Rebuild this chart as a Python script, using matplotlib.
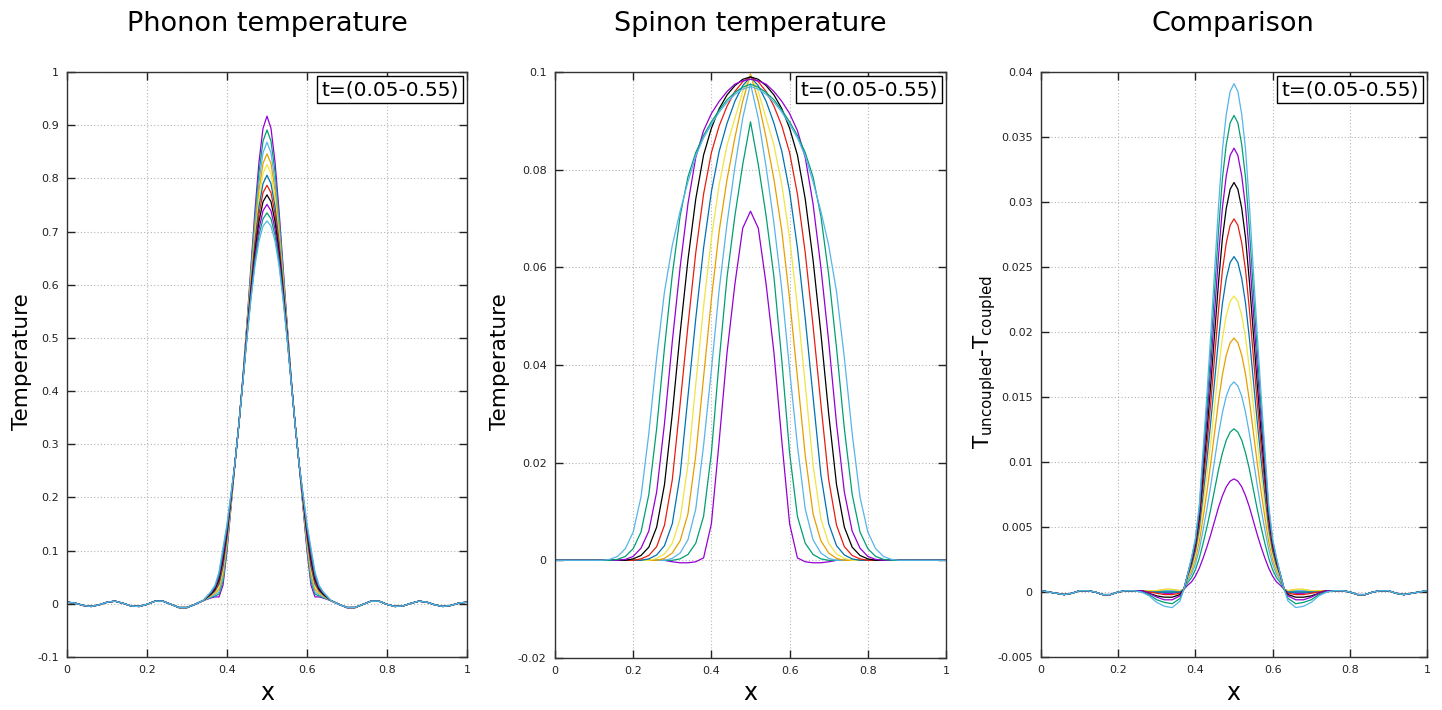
import numpy as np
import matplotlib.pyplot as plt
from matplotlib.ticker import FuncFormatter, MultipleLocator

plt.rcParams['font.family'] = ['DejaVu Sans']

# gnuplot default line colours, cycling after eight
colors = ['#9400d3', '#009e73', '#56b4e9', '#e69f00', '#f0e442', '#0072b2',
          '#e51e10', '#000000', '#9400d3', '#009e73', '#56b4e9']
legend_text = 't=(0.05-0.55)'

# ---------------- Phonon temperature ----------------
phonon_left_x = [0.00, 0.02, 0.04, 0.06, 0.08, 0.10, 0.12, 0.14, 0.16, 0.18,
                 0.20, 0.22, 0.24, 0.26, 0.28, 0.30, 0.32, 0.34]
phonon_left_tail = [0.003, 0.0015, -0.003, -0.005, -0.002, 0.003, 0.005, 0.001, -0.004, -0.005,
                    -0.001, 0.005, 0.005, -0.001, -0.007, -0.007, -0.001, 0.006]
phonon_core_x = [0.36, 0.37, 0.38, 0.39, 0.40, 0.41, 0.42, 0.43, 0.44, 0.45,
                 0.46, 0.47, 0.48, 0.49, 0.50, 0.51, 0.52, 0.53, 0.54, 0.55,
                 0.56, 0.57, 0.58, 0.59, 0.60, 0.61, 0.62, 0.63, 0.64]
phonon_right_x = [0.66, 0.68, 0.70, 0.72, 0.74, 0.76, 0.78, 0.80, 0.82, 0.84,
                  0.86, 0.88, 0.90, 0.92, 0.94, 0.96, 0.98, 1.00]
phonon_right_tail = [0.006, -0.001, -0.007, -0.007, -0.001, 0.005, 0.005, -0.001, -0.005, -0.004,
                     0.001, 0.005, 0.003, -0.002, -0.005, -0.003, 0.0015, 0.003]
phonon_core = [
    [0.011, 0.013, 0.013, 0.035, 0.100, 0.182, 0.265, 0.340, 0.428, 0.529, 0.636, 0.740, 0.831, 0.894, 0.917,
     0.894, 0.831, 0.740, 0.636, 0.529, 0.428, 0.340, 0.265, 0.182, 0.100, 0.035, 0.013, 0.013, 0.011],
    [0.012, 0.015, 0.018, 0.042, 0.105, 0.185, 0.265, 0.340, 0.427, 0.525, 0.628, 0.727, 0.812, 0.870, 0.891,
     0.870, 0.812, 0.727, 0.628, 0.525, 0.427, 0.340, 0.265, 0.185, 0.105, 0.042, 0.018, 0.015, 0.012],
    [0.013, 0.017, 0.022, 0.049, 0.110, 0.187, 0.265, 0.340, 0.426, 0.522, 0.621, 0.715, 0.794, 0.848, 0.868,
     0.848, 0.794, 0.715, 0.621, 0.522, 0.426, 0.340, 0.265, 0.187, 0.110, 0.049, 0.022, 0.017, 0.013],
    [0.015, 0.020, 0.027, 0.056, 0.115, 0.190, 0.265, 0.340, 0.425, 0.519, 0.614, 0.703, 0.778, 0.828, 0.846,
     0.828, 0.778, 0.703, 0.614, 0.519, 0.425, 0.340, 0.265, 0.190, 0.115, 0.056, 0.027, 0.020, 0.015],
    [0.016, 0.022, 0.032, 0.063, 0.120, 0.192, 0.265, 0.340, 0.424, 0.516, 0.607, 0.692, 0.762, 0.809, 0.826,
     0.809, 0.762, 0.692, 0.607, 0.516, 0.424, 0.340, 0.265, 0.192, 0.120, 0.063, 0.032, 0.022, 0.016],
    [0.017, 0.024, 0.037, 0.070, 0.125, 0.195, 0.265, 0.340, 0.424, 0.513, 0.601, 0.682, 0.747, 0.790, 0.806,
     0.790, 0.747, 0.682, 0.601, 0.513, 0.424, 0.340, 0.265, 0.195, 0.125, 0.070, 0.037, 0.024, 0.017],
    [0.018, 0.026, 0.041, 0.077, 0.130, 0.197, 0.265, 0.340, 0.423, 0.510, 0.595, 0.672, 0.733, 0.773, 0.787,
     0.773, 0.733, 0.672, 0.595, 0.510, 0.423, 0.340, 0.265, 0.197, 0.130, 0.077, 0.041, 0.026, 0.018],
    [0.019, 0.028, 0.046, 0.084, 0.135, 0.200, 0.265, 0.340, 0.422, 0.507, 0.589, 0.662, 0.719, 0.756, 0.769,
     0.756, 0.719, 0.662, 0.589, 0.507, 0.422, 0.340, 0.265, 0.200, 0.135, 0.084, 0.046, 0.028, 0.019],
    [0.021, 0.031, 0.051, 0.091, 0.140, 0.202, 0.265, 0.340, 0.421, 0.504, 0.583, 0.652, 0.705, 0.739, 0.751,
     0.739, 0.705, 0.652, 0.583, 0.504, 0.421, 0.340, 0.265, 0.202, 0.140, 0.091, 0.051, 0.031, 0.021],
    [0.022, 0.033, 0.055, 0.098, 0.145, 0.205, 0.265, 0.340, 0.421, 0.502, 0.578, 0.644, 0.693, 0.724, 0.735,
     0.724, 0.693, 0.644, 0.578, 0.502, 0.421, 0.340, 0.265, 0.205, 0.145, 0.098, 0.055, 0.033, 0.022],
    [0.023, 0.035, 0.060, 0.105, 0.150, 0.207, 0.265, 0.340, 0.420, 0.500, 0.573, 0.636, 0.682, 0.710, 0.720,
     0.710, 0.682, 0.636, 0.573, 0.500, 0.420, 0.340, 0.265, 0.207, 0.150, 0.105, 0.060, 0.035, 0.023],
]

# ---------------- Spinon temperature ----------------
spinon_x = [0.00, 0.02, 0.04, 0.06, 0.08, 0.10, 0.12, 0.14, 0.16, 0.18,
            0.20, 0.22, 0.24, 0.26, 0.28, 0.30, 0.32, 0.34, 0.36, 0.38,
            0.40, 0.42, 0.44, 0.46, 0.48, 0.50, 0.52, 0.54, 0.56, 0.58,
            0.60, 0.62, 0.64, 0.66, 0.68, 0.70, 0.72, 0.74, 0.76, 0.78,
            0.80, 0.82, 0.84, 0.86, 0.88, 0.90, 0.92, 0.94, 0.96, 0.98, 1.00]
spinon_curves = [
    [0.0] * 15 + [-0.0003, -0.0005, -0.0005, -0.0003, 0.0005, 0.0075, 0.0245, 0.0425, 0.0565, 0.068, 0.0715,
                  0.068, 0.0565, 0.0425, 0.0245, 0.0075, 0.0005, -0.0003, -0.0005, -0.0005, -0.0003] + [0.0] * 15,
    [0.0] * 16 + [0.0003, 0.0012, 0.0035, 0.009, 0.022, 0.041, 0.058, 0.0705, 0.081, 0.0898,
                  0.081, 0.0705, 0.058, 0.041, 0.022, 0.009, 0.0035, 0.0012, 0.0003] + [0.0] * 16,
    [0.0] * 15 + [0.0004, 0.0015, 0.0042, 0.0105, 0.0235, 0.039, 0.0555, 0.069, 0.0805, 0.0905, 0.0976,
                  0.0905, 0.0805, 0.069, 0.0555, 0.039, 0.0235, 0.0105, 0.0042, 0.0015, 0.0004] + [0.0] * 15,
    [0.0] * 14 + [0.0004, 0.0015, 0.004, 0.0095, 0.0215, 0.0375, 0.0535, 0.0675, 0.078, 0.0865, 0.094, 0.0996,
                  0.094, 0.0865, 0.078, 0.0675, 0.0535, 0.0375, 0.0215, 0.0095, 0.004, 0.0015, 0.0004] + [0.0] * 14,
    [0.0] * 13 + [0.0004, 0.0013, 0.0035, 0.0085, 0.0195, 0.036, 0.052, 0.066, 0.077, 0.085, 0.0905, 0.096, 0.0993,
                  0.096, 0.0905, 0.085, 0.077, 0.066, 0.052, 0.036, 0.0195, 0.0085, 0.0035, 0.0013, 0.0004] + [0.0] * 13,
    [0.0] * 12 + [0.0003, 0.0011, 0.003, 0.0075, 0.0175, 0.0335, 0.0495, 0.064, 0.0755, 0.0838, 0.0895, 0.094, 0.0972, 0.099,
                  0.0972, 0.094, 0.0895, 0.0838, 0.0755, 0.064, 0.0495, 0.0335, 0.0175, 0.0075, 0.003, 0.0011, 0.0003] + [0.0] * 12,
    [0.0] * 11 + [0.0003, 0.001, 0.0028, 0.0072, 0.0165, 0.032, 0.048, 0.063, 0.075, 0.0835, 0.089, 0.093, 0.096, 0.098, 0.099,
                  0.098, 0.096, 0.093, 0.089, 0.0835, 0.075, 0.063, 0.048, 0.032, 0.0165, 0.0072, 0.0028, 0.001, 0.0003] + [0.0] * 11,
    [0.0] * 10 + [0.0003, 0.001, 0.0027, 0.0068, 0.0155, 0.030, 0.0465, 0.0615, 0.074, 0.083, 0.0885, 0.0925, 0.0953, 0.0972, 0.0985, 0.099,
                  0.0985, 0.0972, 0.0953, 0.0925, 0.0885, 0.083, 0.074, 0.0615, 0.0465, 0.030, 0.0155, 0.0068, 0.0027, 0.001, 0.0003] + [0.0] * 10,
    [0.0] * 9 + [0.0002, 0.0008, 0.0025, 0.006, 0.014, 0.028, 0.0448, 0.060, 0.073, 0.0825, 0.088, 0.0915, 0.094, 0.096, 0.0975, 0.0982, 0.0985,
                 0.0982, 0.0975, 0.096, 0.094, 0.0915, 0.088, 0.0825, 0.073, 0.060, 0.0448, 0.028, 0.014, 0.006, 0.0025, 0.0008, 0.0002] + [0.0] * 9,
    [0.0] * 8 + [0.0002, 0.0008, 0.0024, 0.0058, 0.0135, 0.027, 0.0435, 0.0585, 0.0705, 0.0785, 0.0835, 0.087, 0.0898, 0.0922, 0.0943, 0.0958, 0.0969, 0.0975,
                 0.0969, 0.0958, 0.0943, 0.0922, 0.0898, 0.087, 0.0835, 0.0785, 0.0705, 0.0585, 0.0435, 0.027, 0.0135, 0.0058, 0.0024, 0.0008, 0.0002] + [0.0] * 8,
    [0.0] * 7 + [0.0002, 0.0008, 0.0024, 0.0058, 0.013, 0.026, 0.0415, 0.055, 0.0645, 0.0715, 0.0775, 0.0828, 0.0865, 0.0893, 0.0918, 0.0938, 0.0954, 0.0965, 0.097,
                 0.0965, 0.0954, 0.0938, 0.0918, 0.0893, 0.0865, 0.0828, 0.0775, 0.0715, 0.0645, 0.055, 0.0415, 0.026, 0.013, 0.0058, 0.0024, 0.0008, 0.0002] + [0.0] * 7,
]

# ---------------- Comparison (uncoupled - coupled) ----------------
comp_left_x = [0.00, 0.02, 0.04, 0.06, 0.08, 0.10, 0.12, 0.14, 0.16, 0.18, 0.20, 0.22, 0.24]
comp_left_tail = [0.0001, 0.0, -0.0001, -0.0002, -0.0001, 0.0001, 0.0001, 0.0, -0.0002, -0.0002, 0.0, 0.0001, 0.0001]
comp_core_x = [0.26, 0.28, 0.30, 0.32, 0.34, 0.36, 0.37, 0.38, 0.39, 0.40,
               0.41, 0.42, 0.43, 0.44, 0.45, 0.46, 0.47, 0.48, 0.49, 0.50,
               0.51, 0.52, 0.53, 0.54, 0.55, 0.56, 0.57, 0.58, 0.59, 0.60,
               0.61, 0.62, 0.63, 0.64, 0.66, 0.68, 0.70, 0.72, 0.74]
comp_right_x = [0.76, 0.78, 0.80, 0.82, 0.84, 0.86, 0.88, 0.90, 0.92, 0.94, 0.96, 0.98, 1.00]
comp_right_tail = [0.0001, 0.0001, 0.0, -0.0002, -0.0002, 0.0, 0.0001, 0.0001, -0.0001, -0.0002, -0.0001, 0.0, 0.0001]
comp_core = [
    [0.0001, 0.0, 0.0, -0.0001, -0.0001, 0.0, 0.0002,
     0.00052, 0.00078, 0.00122, 0.00183, 0.00261, 0.00348, 0.00444, 0.00548, 0.00653, 0.0074, 0.00809, 0.00853, 0.0087,
     0.00853, 0.00809, 0.0074, 0.00653, 0.00548, 0.00444, 0.00348, 0.00261, 0.00183, 0.00122, 0.00078, 0.00052,
     0.0002, 0.0, -0.0001, -0.0001, 0.0, 0.0, 0.0001],
    [0.0001, 0.0, 0.0, 0.0, 0.0, 0.0, 0.0002,
     0.00072, 0.0011, 0.00171, 0.00259, 0.00374, 0.00501, 0.0064, 0.00791, 0.00943, 0.01069, 0.01168, 0.0123, 0.01255,
     0.0123, 0.01168, 0.01069, 0.00943, 0.00791, 0.0064, 0.00501, 0.00374, 0.00259, 0.00171, 0.0011, 0.00072,
     0.0002, 0.0, 0.0, 0.0, 0.0, 0.0, 0.0001],
    [0.0001, 0.0, 0.0001, 0.0001, 0.0001, 0.0001, 0.0002,
     0.00089, 0.00138, 0.00215, 0.00326, 0.00478, 0.00643, 0.00824, 0.0102, 0.01215, 0.0138, 0.01506, 0.01585, 0.01616,
     0.01585, 0.01506, 0.0138, 0.01215, 0.0102, 0.00824, 0.00643, 0.00478, 0.00326, 0.00215, 0.00138, 0.00089,
     0.0002, 0.0001, 0.0001, 0.0001, 0.0001, 0.0, 0.0001],
    [0.0001, 0.0001, 0.0001, 0.0002, 0.0002, 0.0001, 0.0002,
     0.00103, 0.00163, 0.00253, 0.00387, 0.00574, 0.00775, 0.00996, 0.01233, 0.01471, 0.01672, 0.01822, 0.01917, 0.01953,
     0.01917, 0.01822, 0.01672, 0.01471, 0.01233, 0.00996, 0.00775, 0.00574, 0.00387, 0.00253, 0.00163, 0.00103,
     0.0002, 0.0001, 0.0002, 0.0002, 0.0001, 0.0001, 0.0001],
    [0.0001, 0.0001, 0.0001, 0.0002, 0.0002, 0.0001, 0.0002,
     0.00114, 0.00185, 0.00287, 0.00442, 0.00665, 0.00902, 0.01161, 0.01439, 0.01717, 0.01954, 0.02127, 0.02236, 0.02277,
     0.02236, 0.02127, 0.01954, 0.01717, 0.01439, 0.01161, 0.00902, 0.00665, 0.00442, 0.00287, 0.00185, 0.00114,
     0.0002, 0.0001, 0.0002, 0.0002, 0.0001, 0.0001, 0.0001],
    [0.0001, 0.0, 0.0, 0.0, 0.0, 0.0, 0.0002,
     0.00123, 0.00204, 0.00316, 0.0049, 0.00748, 0.01019, 0.01316, 0.01632, 0.01948, 0.02219, 0.02412, 0.02535, 0.0258,
     0.02535, 0.02412, 0.02219, 0.01948, 0.01632, 0.01316, 0.01019, 0.00748, 0.0049, 0.00316, 0.00204, 0.00123,
     0.0002, 0.0, 0.0, 0.0, 0.0, 0.0, 0.0001],
    [0.0001, 0.0, -0.0001, -0.0002, -0.0002, -0.0001, 0.0002,
     0.00129, 0.0022, 0.00342, 0.00534, 0.00827, 0.01131, 0.01464, 0.01817, 0.0217, 0.02474, 0.02686, 0.02821, 0.0287,
     0.02821, 0.02686, 0.02474, 0.0217, 0.01817, 0.01464, 0.01131, 0.00827, 0.00534, 0.00342, 0.0022, 0.00129,
     0.0002, -0.0001, -0.0002, -0.0002, -0.0001, 0.0, 0.0001],
    [0.0001, -0.0001, -0.0003, -0.0004, -0.0004, -0.0002, 0.0002,
     0.00134, 0.00235, 0.00364, 0.00573, 0.00901, 0.01238, 0.01607, 0.01996, 0.02385, 0.02722, 0.02952, 0.03098, 0.0315,
     0.03098, 0.02952, 0.02722, 0.02385, 0.01996, 0.01607, 0.01238, 0.00901, 0.00573, 0.00364, 0.00235, 0.00134,
     0.0002, -0.0002, -0.0004, -0.0004, -0.0003, -0.0001, 0.0001],
    [0.0001, -0.0001, -0.0004, -0.0006, -0.0006, -0.0003, 0.0002,
     0.00137, 0.00247, 0.00382, 0.00608, 0.0097, 0.01338, 0.01741, 0.02164, 0.02588, 0.02957, 0.03202, 0.03359, 0.03414,
     0.03359, 0.03202, 0.02957, 0.02588, 0.02164, 0.01741, 0.01338, 0.0097, 0.00608, 0.00382, 0.00247, 0.00137,
     0.0002, -0.0003, -0.0006, -0.0006, -0.0004, -0.0001, 0.0001],
    [0.0, -0.0002, -0.0006, -0.0008, -0.0009, -0.0005, 0.0002,
     0.00137, 0.00257, 0.00398, 0.00638, 0.01034, 0.01433, 0.0187, 0.02326, 0.02782, 0.03182, 0.03442, 0.03609, 0.03666,
     0.03609, 0.03442, 0.03182, 0.02782, 0.02326, 0.0187, 0.01433, 0.01034, 0.00638, 0.00398, 0.00257, 0.00137,
     0.0002, -0.0005, -0.0009, -0.0008, -0.0006, -0.0002, 0.0],
    [0.0, -0.0003, -0.0008, -0.0011, -0.0012, -0.0007, 0.0002,
     0.00137, 0.00266, 0.00411, 0.00665, 0.01095, 0.01525, 0.01994, 0.02483, 0.02972, 0.03402, 0.03675, 0.03851, 0.0391,
     0.03851, 0.03675, 0.03402, 0.02972, 0.02483, 0.01994, 0.01525, 0.01095, 0.00665, 0.00411, 0.00266, 0.00137,
     0.0002, -0.0007, -0.0012, -0.0011, -0.0008, -0.0003, 0.0],
]

W, H = 1442, 710
fig = plt.figure(figsize=(W / 100, H / 100), dpi=100)


def make_axes(left, right, top, bottom):
    return fig.add_axes([left / W, 1 - bottom / H, (right - left) / W, (bottom - top) / H])


def style(ax, ylim, ystep):
    ax.set_xlim(0, 1)
    ax.set_ylim(*ylim)
    ax.xaxis.set_major_locator(MultipleLocator(0.2))
    ax.yaxis.set_major_locator(MultipleLocator(ystep))
    fmt = FuncFormatter(lambda v, p: '%g' % round(v, 6))
    ax.xaxis.set_major_formatter(fmt)
    ax.yaxis.set_major_formatter(fmt)
    ax.tick_params(direction='in', length=6, width=1, top=True, right=True,
                   labelsize=8, pad=6, colors='#222222')
    ax.grid(True, color='#b4b4b4', linestyle=(0, (1, 2)), linewidth=0.8)
    for s in ax.spines.values():
        s.set_color('#333333')
        s.set_linewidth(1)
    # key title in a box, 5 px inside the top right corner
    ax.annotate(legend_text, xy=(1, 1), xycoords='axes fraction',
                xytext=(-8, -8), textcoords='offset pixels', ha='right', va='top',
                fontsize=14.5,
                bbox=dict(boxstyle='square,pad=0.22', fc='white', ec='black', lw=1))


ax1 = make_axes(67, 467, 72, 657)
ax2 = make_axes(555, 946, 72, 658)
ax3 = make_axes(1041, 1427, 72, 657)

for k in range(11):
    ax1.plot(phonon_left_x + phonon_core_x + phonon_right_x,
             phonon_left_tail + phonon_core[k] + phonon_right_tail,
             color=colors[k], lw=0.9)
    ax2.plot(spinon_x, spinon_curves[k], color=colors[k], lw=0.9)
    ax3.plot(comp_left_x + comp_core_x + comp_right_x,
             comp_left_tail + comp_core[k] + comp_right_tail,
             color=colors[k], lw=0.9)

style(ax1, (-0.1, 1.0), 0.1)
style(ax2, (-0.02, 0.1), 0.02)
style(ax3, (-0.005, 0.04), 0.005)

# titles and axis labels placed in figure pixels like the gnuplot output
for cx, title in [(267, 'Phonon temperature'), (750, 'Spinon temperature'), (1233, 'Comparison')]:
    fig.text(cx / W, 1 - 24 / H, title, ha='center', va='center', fontsize=19.5)
    fig.text(cx / W, 1 - 693 / H, 'x', ha='center', va='center', fontsize=17)
fig.text(22 / W, 1 - 362 / H, 'Temperature', rotation=90, ha='center', va='center', fontsize=15.5)
fig.text(500 / W, 1 - 362 / H, 'Temperature', rotation=90, ha='center', va='center', fontsize=15.5)
fig.text(985 / W, 1 - 362 / H, r'T$_{\mathregular{uncoupled}}$-T$_{\mathregular{coupled}}$',
         rotation=90, ha='center', va='center', fontsize=15.5)

fig.savefig('out.png', dpi=100)
